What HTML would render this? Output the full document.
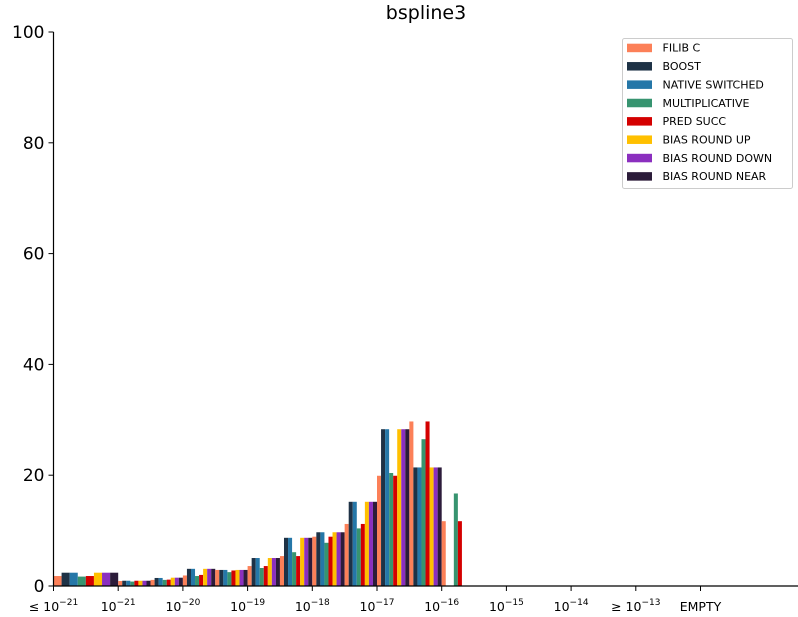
<!DOCTYPE html>
<html><head><meta charset="utf-8"><style>
body{margin:0;background:#fff;}
svg{display:block;font-family:"DejaVu Sans","Liberation Sans",sans-serif;}
</style></head><body>
<svg id="chart" width="798" height="617" viewBox="0 0 798 617" xmlns="http://www.w3.org/2000/svg">
<text x="426" y="19" font-size="19" text-anchor="middle">bspline3</text>
<g id="bars"></g>
<g id="axes"></g>
<g id="legend"></g>
</svg>
<script>
const categories = ["\u2264 10^-21","10^-21","10^-20","10^-19","10^-18","10^-17","10^-16","10^-15","10^-14","\u2265 10^-13","EMPTY"];
const seriesNames = ["FILIB C","BOOST","NATIVE SWITCHED","MULTIPLICATIVE","PRED SUCC","BIAS ROUND UP","BIAS ROUND DOWN","BIAS ROUND NEAR"];
const colors = ["#fc8058","#1e3246","#2577a8","#379470","#d40000","#ffc000","#8b2fbf","#2c1c3a"];
const yTicks = [0,20,40,60,80,100];
// bins: first is full-width "<=1e-21", then two half-bins per decade
const filib   = [1.8, 0.9,1.1, 1.9,2.9, 3.6,5.4, 8.9,11.2, 19.9,29.7, 11.7,0, 0,0, 0,0];
const boost   = [2.4, 0.95,1.45, 3.1,2.9, 5.05,8.7, 9.7,15.2, 28.3,21.4, 0,0, 0,0, 0,0];
const nativeS = [2.4, 0.95,1.45, 3.1,2.9, 5.05,8.7, 9.7,15.2, 28.3,21.4, 0,0, 0,0, 0,0];
const multip  = [1.7, 0.8,1.1, 1.8,2.5, 3.25,6.1, 7.8,10.4, 20.4,26.5, 16.7,0, 0,0, 0,0];
const predS   = [1.8, 0.95,1.15, 2.0,2.8, 3.6,5.4, 8.9,11.2, 19.9,29.7, 11.7,0, 0,0, 0,0];
const biasUp  = [2.4, 0.95,1.5, 3.1,2.9, 5.05,8.7, 9.7,15.2, 28.3,21.4, 0,0, 0,0, 0,0];
const biasDn  = [2.4, 0.95,1.5, 3.1,2.9, 5.05,8.7, 9.7,15.2, 28.3,21.4, 0,0, 0,0, 0,0];
const biasNr  = [2.4, 0.95,1.5, 3.1,2.9, 5.05,8.7, 9.7,15.2, 28.3,21.4, 0,0, 0,0, 0,0];
const series = [filib,boost,nativeS,multip,predS,biasUp,biasDn,biasNr];

const NS="http://www.w3.org/2000/svg";
const x0=53.5, step=64.7, yBase=586, yTop=32;
function xScale(c){return x0+c*step;}
function yScale(v){return yBase-(v/100)*(yBase-yTop);}
function mk(t,a,p){const e=document.createElementNS(NS,t);for(const k in a)e.setAttribute(k,a[k]);p.appendChild(e);return e;}
const bars=document.getElementById('bars');
const nb=filib.length;
for(let b=0;b<nb;b++){
  let start,w;
  if(b===0){start=0;w=1;}else{start=1+(b-1)*0.5;w=0.5;}
  const bw=w*step/8;
  series.forEach((s,i)=>{
    const v=s[b]; if(!v) return;
    const r=mk('rect',{x:xScale(start)+i*bw,y:yScale(v),width:bw,height:yBase-yScale(v),fill:colors[i]},bars);
    
    
  });
}
const axes=document.getElementById('axes');
let l=mk('line',{x1:x0,y1:yTop,x2:x0,y2:yBase,stroke:'#000','stroke-width':1.2},axes);


l=mk('line',{x1:x0,y1:yBase,x2:798,y2:yBase,stroke:'#000','stroke-width':1.2},axes);


yTicks.forEach(t=>{
  const y=yScale(t);
  mk('line',{x1:x0-5,y1:y,x2:x0,y2:y,stroke:'#000'},axes);
  const tx=mk('text',{x:x0-9,y:y+6,'font-size':17,'text-anchor':'end'},axes);
  tx.textContent=t;
  
  
});
categories.forEach((c,i)=>{
  const x=xScale(i);
  mk('line',{x1:x,y1:yBase,x2:x,y2:yBase+5,stroke:'#000'},axes);
  const tx=mk('text',{x:x,y:611,'font-size':12.5,'text-anchor':'middle'},axes);
  
  
  if(c.indexOf('^')>=0){
    const p=c.split('^');
    const t1=mk('tspan',{},tx);t1.textContent=p[0];
    const t2=mk('tspan',{'font-size':9,dy:-6},tx);t2.textContent=p[1].replace('-','\u2212');
  } else tx.textContent=c;
});
const lg=document.getElementById('legend');
let box=mk('rect',{x:622.5,y:38.5,width:170,height:150,fill:'#fff',stroke:'#ccc',rx:2},lg);


seriesNames.forEach((n,i)=>{
  const y=47.7+i*18.35;
  const g=mk('g',{},lg);
  
  
  mk('rect',{x:627,y:y-4,width:25,height:8.5,fill:colors[i]},g);
  const t=mk('text',{x:662.5,y:y+4,'font-size':11},g);
  t.textContent=n;
});
</script>
</body></html>
